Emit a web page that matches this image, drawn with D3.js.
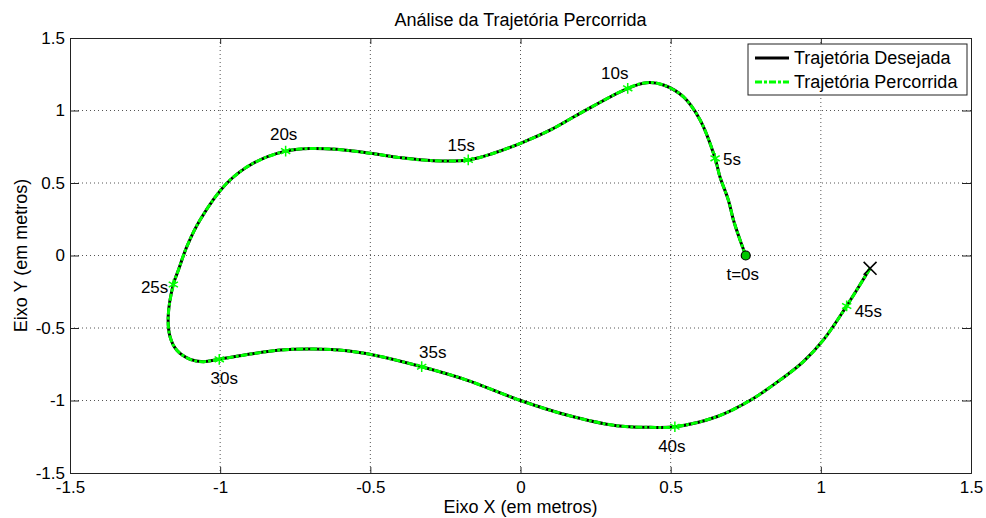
<!DOCTYPE html>
<html><head><meta charset="utf-8">
<script src="https://cdn.jsdelivr.net/npm/d3@7"></script>
<style>body{margin:0;background:#fff}text{font-family:"Liberation Sans",Arial,sans-serif}</style>
</head><body><svg id="c" width="986" height="518"></svg>
<script>
const title = "Análise da Trajetória Percorrida";
const xLabel = "Eixo X (em metros)";
const yLabel = "Eixo Y (em metros)";
const seriesNames = ["Trajetória Desejada", "Trajetória Percorrida"];
const xTicks = [-1.5, -1, -0.5, 0, 0.5, 1, 1.5];
const yTicks = [-1.5, -1, -0.5, 0, 0.5, 1, 1.5];
const pathX = [0.75,0.731,0.709,0.692,0.664,0.648,0.598,0.542,0.476,0.42,0.357,0.198,0.10,0.0,-0.09,-0.174,-0.29,-0.401,-0.501,-0.612,-0.70,-0.782,-0.89,-0.978,-1.067,-1.111,-1.139,-1.156,-1.173,-1.167,-1.145,-1.10,-1.056,-1.003,-0.90,-0.80,-0.69,-0.579,-0.49,-0.329,-0.179,0.0,0.154,0.320,0.431,0.514,0.653,0.764,0.860,0.940,1.01,1.086,1.164];
const pathY = [0.0,0.107,0.245,0.383,0.543,0.670,0.934,1.095,1.176,1.192,1.153,0.98,0.866,0.774,0.705,0.659,0.654,0.675,0.705,0.732,0.738,0.720,0.636,0.498,0.245,0.061,-0.10,-0.20,-0.42,-0.56,-0.652,-0.716,-0.732,-0.716,-0.68,-0.652,-0.645,-0.657,-0.686,-0.767,-0.859,-1.0,-1.10,-1.174,-1.185,-1.181,-1.112,-1.0,-0.865,-0.735,-0.578,-0.348,-0.088];
const markTimes = ["t=0s","5s","10s","15s","20s","25s","30s","35s","40s","45s"];
const markX = [0.75,0.648,0.357,-0.174,-0.782,-1.156,-1.003,-0.329,0.514,1.086];
const markY = [0.0,0.670,1.153,0.659,0.720,-0.20,-0.716,-0.767,-1.181,-0.348];
const endX = 1.164, endY = -0.088;

// layout (styles/offsets)
const labelOffsets = [[-3,19,"middle"],[8,1,"start"],[-13,-15,"middle"],[-7,-15,"middle"],[-2,-17,"middle"],[-5,3,"end"],[5,19,"middle"],[11,-15,"middle"],[-3,19,"middle"],[8,5,"start"]];
const svg = d3.select("#c");
const L=70,R=971,T=38,B=473;
const x = d3.scaleLinear().domain([-1.5,1.5]).range([L,R]);
const y = d3.scaleLinear().domain([-1.5,1.5]).range([B,T]);
const fmt = d => String(d);

// grid
const g = svg.append("g");
xTicks.slice(1,-1).forEach(t=>g.append("line").attr("x1",x(t)).attr("x2",x(t)).attr("y1",T).attr("y2",B).attr("stroke","#555").attr("stroke-width",1).attr("stroke-dasharray","1,3"));
yTicks.slice(1,-1).forEach(t=>g.append("line").attr("x1",L).attr("x2",R).attr("y1",y(t)).attr("y2",y(t)).attr("stroke","#555").attr("stroke-width",1).attr("stroke-dasharray","1,3"));

// axes
const ax = svg.append("g").attr("transform",`translate(0,${B})`).call(d3.axisBottom(x).tickValues(xTicks).tickSize(-6).tickPadding(8).tickFormat(fmt));
const ax2 = svg.append("g").attr("transform",`translate(0,${T})`).call(d3.axisTop(x).tickValues(xTicks).tickSize(-6).tickFormat(""));
const ay = svg.append("g").attr("transform",`translate(${L},0)`).call(d3.axisLeft(y).tickValues(yTicks).tickSize(-9).tickPadding(5).tickFormat(fmt));
const ay2 = svg.append("g").attr("transform",`translate(${R},0)`).call(d3.axisRight(y).tickValues(yTicks).tickSize(-9).tickFormat(""));
[ax,ax2,ay,ay2].forEach(a=>{a.selectAll("path").attr("stroke","#222");a.selectAll("line").attr("stroke","#222");a.selectAll("text").attr("font-size",17).attr("fill","#000").style("font-family","'Liberation Sans',Arial,sans-serif");});

// lines
const pts = pathX.map((v,i)=>[v,pathY[i]]);
const line = d3.line().x(d=>x(d[0])).y(d=>y(d[1])).curve(d3.curveCatmullRom.alpha(0.5));
svg.append("path").attr("d",line(pts)).attr("fill","none").attr("stroke","#000").attr("stroke-width",3);
svg.append("path").attr("d",line(pts)).attr("fill","none").attr("stroke","#00ff00").attr("stroke-width",3).attr("stroke-dasharray","7,2,3,2");

// markers
const star = d3.symbol().type(d3.symbolAsterisk).size(80);
markTimes.forEach((t,i)=>{
  if(i===0){
    svg.append("circle").attr("cx",x(markX[i])).attr("cy",y(markY[i])).attr("r",4.5).attr("fill","#00c800").attr("stroke","#000").attr("stroke-width",1.2);
  } else {
    svg.append("path").attr("d",star()).attr("transform",`translate(${x(markX[i])},${y(markY[i])})`).attr("fill","none").attr("stroke","#00ff00").attr("stroke-width",1.5);
  }
  const o = labelOffsets[i];
  svg.append("text").attr("x",x(markX[i])+o[0]).attr("y",y(markY[i])+o[1]).attr("dy","0.35em").attr("text-anchor",o[2]).attr("font-size",17).text(t);
});
svg.append("path").attr("d",d3.symbol().type(d3.symbolTimes).size(110)()).attr("transform",`translate(${x(endX)},${y(endY)})`).attr("fill","none").attr("stroke","#000").attr("stroke-width",1.6);

// titles
svg.append("text").attr("x",(L+R)/2).attr("y",26).attr("text-anchor","middle").attr("font-size",18).text(title);
svg.append("text").attr("x",(L+R)/2).attr("y",513).attr("text-anchor","middle").attr("font-size",18).text(xLabel);
svg.append("text").attr("transform",`translate(27,${(T+B)/2}) rotate(-90)`).attr("text-anchor","middle").attr("font-size",18).text(yLabel);

// legend
const lg = svg.append("g");
lg.append("rect").attr("x",748).attr("y",44).attr("width",219).attr("height",51).attr("fill","#fff").attr("stroke","#222");
[0,1].forEach(i=>{
  const yy = 58+i*24;
  lg.append("line").attr("x1",755).attr("x2",789).attr("y1",yy).attr("y2",yy).attr("stroke",i?"#00ff00":"#000").attr("stroke-width",3).attr("stroke-dasharray",i?"7,2,3,2":null);
  lg.append("text").attr("x",794).attr("y",yy).attr("dy","0.35em").attr("font-size",18).text(seriesNames[i]);
});
</script></body></html>
